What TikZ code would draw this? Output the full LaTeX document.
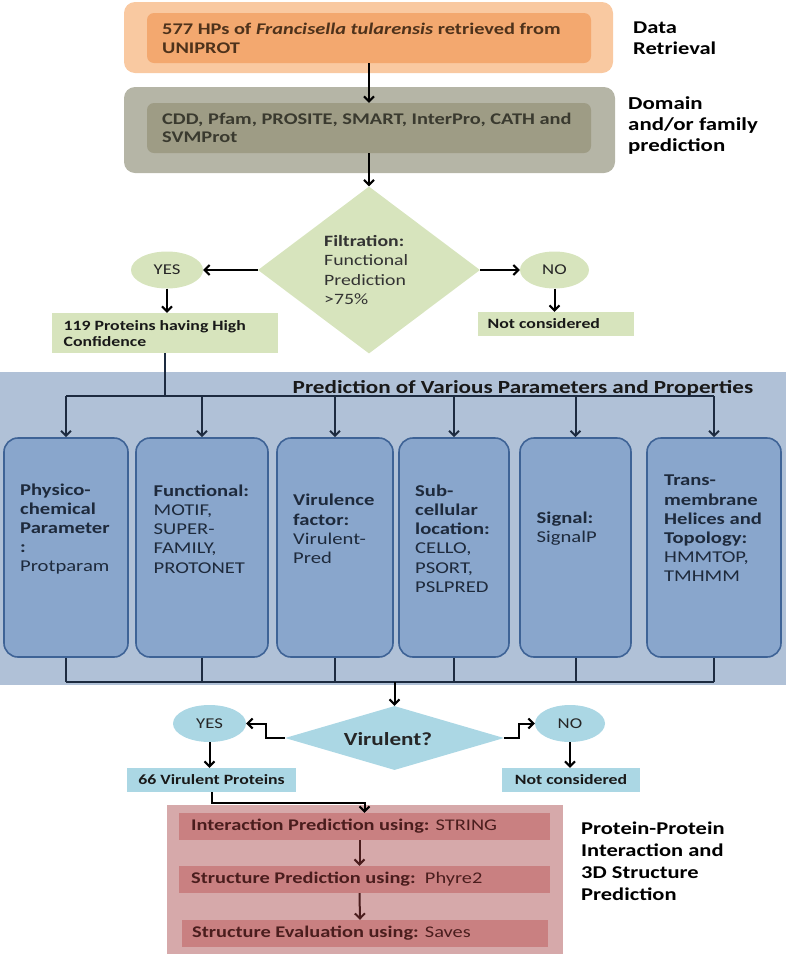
\documentclass[tikz,border=0pt]{standalone}
\usepackage{fontspec}
\setmainfont{Carlito}[FakeStretch=1.25]
\usetikzlibrary{shapes.geometric,arrows.meta}
\definecolor{retlight}{HTML}{F9C9A1}
\definecolor{retdark}{HTML}{F3A86F}
\definecolor{retink}{HTML}{4E321B}
\definecolor{domlight}{HTML}{B5B5A6}
\definecolor{domdark}{HTML}{9E9C85}
\definecolor{domink}{HTML}{3A3A2F}
\definecolor{filtgreen}{HTML}{D7E4BD}
\definecolor{panelblue}{HTML}{B0C1D7}
\definecolor{paramfill}{HTML}{89A6CC}
\definecolor{paramedge}{HTML}{3E6396}
\definecolor{paramink}{HTML}{1E2A3C}
\definecolor{businkk}{HTML}{1D2B40}
\definecolor{virblue}{HTML}{ABD7E4}
\definecolor{ppilight}{HTML}{D6A9AA}
\definecolor{ppidark}{HTML}{C98081}
\definecolor{ppiink}{HTML}{4A1D1D}
\tikzset{
  flow/.style={draw=black, line width=2pt,
    -{Straight Barb[length=5pt,width=10pt]}},
  bus line/.style={draw=businkk, line width=2pt},
  bus arrow/.style={bus line, -{Straight Barb[length=5pt,width=10pt]}},
  ppi flow/.style={draw=ppiink, line width=2pt,
    -{Straight Barb[length=5pt,width=10pt]}},
  stage outer/.style={rounded corners=11pt, inner sep=0pt},
  stage inner/.style={rounded corners=7pt, inner sep=0pt},
  stage text/.style={anchor=west, align=left, inner sep=0pt,
    font=\fontsize{16.3}{19}\selectfont\bfseries},
  side label/.style={anchor=west, align=left, inner sep=0pt,
    font=\fontsize{18}{21.5}\selectfont\bfseries},
  decision/.style={diamond, inner sep=0pt},
  answer/.style={ellipse, inner sep=0pt, font=\fontsize{15}{18}\selectfont,
    text=black!85},
  result box/.style={inner sep=0pt, font=\fontsize{14.2}{16}\selectfont\bfseries,
    text=black!90},
  param box/.style={rounded corners=14pt, draw=paramedge, line width=1.6pt,
    fill=paramfill, minimum height=219pt, inner sep=0pt},
  param text/.style={anchor=west, align=left, inner sep=0pt, text=paramink,
    font=\fontsize{16.5}{19.2}\selectfont},
  ppi box/.style={fill=ppidark, minimum height=27pt, inner sep=0pt},
  ppi text/.style={anchor=west, inner sep=0pt, text=ppiink,
    font=\fontsize{16.3}{17}\selectfont},
}

\begin{document}
\begin{tikzpicture}[x=1pt, y=-1pt]
  \useasboundingbox (0,0) rectangle (786,954);

  % retrieval and domain stages
  \node[stage outer, fill=retlight, minimum width=489pt, minimum height=71pt] (retout) at (368.5,37.5) {};
  \node[stage inner, fill=retdark, minimum width=444pt, minimum height=50pt] (retin) at (369,38) {};
  \node[stage text, text=retink] (rettext) at (162,38.5)
    {577 HPs of \textit{Francisella tularensis} retrieved from\\UNIPROT};
  \node[side label] (retlabel) at (633,38) {Data\\Retrieval};

  \node[stage outer, fill=domlight, minimum width=491pt, minimum height=86pt] (domout) at (369.5,130) {};
  \node[stage inner, fill=domdark, minimum width=444pt, minimum height=50pt] (domin) at (369,128) {};
  \node[stage text, text=domink, font=\fontsize{16.3}{18}\selectfont\bfseries] (domtext) at (162,128)
    {CDD, Pfam, PROSITE, SMART, InterPro, CATH and\\SVMProt};
  \node[side label, font=\fontsize{18.3}{21}\selectfont\bfseries] (domlabel) at (628,126)
    {Domain\\and/or family\\prediction};

  \draw[flow] (retin.south) -- (domin.north);

  % filtration
  \node[decision, fill=filtgreen, minimum width=222pt, minimum height=167pt] (filter) at (369,270) {};
  \node[param text, text=black!80, font=\fontsize{15.8}{19.2}\selectfont] (filtertext) at (324,270)
    {\textbf{Filtration:}\\Functional\\Prediction\\>75\%};
  \node[answer, fill=filtgreen, minimum width=72pt, minimum height=37pt] (yes1) at (167,270) {YES};
  \node[answer, fill=filtgreen, minimum width=69pt, minimum height=37pt] (no1) at (554.5,270) {NO};
  \node[result box, fill=filtgreen, minimum width=226pt, minimum height=40pt] (conf) at (165,333) {};
  \node[result box, anchor=west, align=left] (conftext) at (63.5,333.5)
    {119 Proteins having High\\Confidence};
  \node[result box, fill=filtgreen, minimum width=156pt, minimum height=24pt] (nc1) at (555.5,324) {};
  \node[result box, anchor=west] (nc1text) at (487.5,324) {Not considered};

  \draw[flow] (domin.south) -- (filter.north);
  \draw[flow] (filter.west) -- (yes1.east);
  \draw[flow] (filter.east) -- (no1.west);
  \draw[flow] (yes1.south) -- (yes1.south |- conf.north);
  \draw[flow] (no1.south) -- (no1.south |- nc1.north);

  % parameters and properties
  \fill[panelblue] (0,372) rectangle (786,685);
  \node[font=\fontsize{18.5}{20}\selectfont\bfseries, text=black!90] (ptitle) at (523,388)
    {Prediction of Various Parameters and Properties};

  \node[param box, minimum width=124pt] (p1) at (66,547.5) {};
  \node[param box, minimum width=132pt] (p2) at (202,547.5) {};
  \node[param box, minimum width=116pt] (p3) at (335,547.5) {};
  \node[param box, minimum width=110pt] (p4) at (454,547.5) {};
  \node[param box, minimum width=111pt] (p5) at (575.5,547.5) {};
  \node[param box, minimum width=134pt] (p6) at (714,547.5) {};

  \node[param text] (p1text) at (20,529)
    {\textbf{Physico-}\\\textbf{chemical}\\\textbf{Parameter}\\\textbf{:}\\Protparam};
  \node[param text] (p2text) at (153.5,529)
    {\textbf{Functional:}\\MOTIF,\\SUPER-\\FAMILY,\\PROTONET};
  \node[param text] (p3text) at (293,529)
    {\textbf{Virulence}\\\textbf{factor:}\\Virulent-\\Pred};
  \node[param text] (p4text) at (415,538.5)
    {\textbf{Sub-}\\\textbf{cellular}\\\textbf{location:}\\CELLO,\\PSORT,\\PSLPRED};
  \node[param text] (p5text) at (536.5,529)
    {\textbf{Signal:}\\SignalP};
  \node[param text] (p6text) at (664,528.5)
    {\textbf{Trans-}\\\textbf{membrane}\\\textbf{Helices and}\\\textbf{Topology:}\\HMMTOP,\\TMHMM};

  \coordinate (bus) at (0,396);
  \coordinate (join) at (0,682);
  \draw[bus line] (conf.south) -- (conf.south |- bus);
  \draw[bus line] (p1.north |- bus) -- (p6.north |- bus);
  \draw[bus arrow] (p1.north |- bus) -- (p1.north);
  \draw[bus arrow] (p2.north |- bus) -- (p2.north);
  \draw[bus arrow] (p3.north |- bus) -- (p3.north);
  \draw[bus arrow] (p4.north |- bus) -- (p4.north);
  \draw[bus arrow] (p5.north |- bus) -- (p5.north);
  \draw[bus arrow] (p6.north |- bus) -- (p6.north);
  \draw[bus line] (p1.south) -- (p1.south |- join);
  \draw[bus line] (p2.south) -- (p2.south |- join);
  \draw[bus line] (p3.south) -- (p3.south |- join);
  \draw[bus line] (p4.south) -- (p4.south |- join);
  \draw[bus line] (p5.south) -- (p5.south |- join);
  \draw[bus line] (p6.south) -- (p6.south |- join);
  \draw[bus line] (p1.south |- join) -- (p6.south |- join);

  % virulence check
  \node[decision, fill=virblue, minimum width=219pt, minimum height=64pt] (vir) at (394.5,738) {};
  \node[font=\fontsize{18.5}{22}\selectfont\bfseries, text=black!85] (virtext) at (388,739) {Virulent?};
  \node[answer, fill=virblue, minimum width=73pt, minimum height=37pt] (yes2) at (209.5,723.5) {YES};
  \node[answer, fill=virblue, minimum width=70pt, minimum height=37pt] (no2) at (570,723.5) {NO};
  \node[result box, fill=virblue, minimum width=169pt, minimum height=24pt] (vp) at (211.5,780) {66 Virulent Proteins};
  \node[result box, fill=virblue, minimum width=138pt, minimum height=24pt] (nc2) at (571,780) {Not considered};

  \draw[flow] (vir.north |- join) -- (vir.north);
  \draw[flow] (vir.west) -- ++(-19,0) |- (yes2.east);
  \draw[flow] (vir.east) -- ++(15,0) |- (no2.west);
  \draw[flow] (yes2.south) -- (yes2.south |- vp.north);
  \draw[flow] (no2.south) -- (no2.south |- nc2.north);

  % protein-protein interaction and structure
  \node[fill=ppilight, minimum width=396pt, minimum height=149pt, inner sep=0pt] (ppi) at (365,879.5) {};
  \node[ppi box, minimum width=371pt] (pa) at (364.5,826.5) {};
  \node[ppi box, minimum width=371pt] (pb) at (364.5,879.5) {};
  \node[ppi box, minimum width=366pt] (pc) at (365,933.5) {};
  \node[ppi text] (patext) at (191,826.5) {\textbf{Interaction Prediction using:} STRING};
  \node[ppi text] (pbtext) at (191,879.5) {\textbf{Structure Prediction using:}\ \ Phyre2};
  \node[ppi text] (pctext) at (192,933.5) {\textbf{Structure Evaluation using:} Saves};
  \node[side label, font=\fontsize{18}{22}\selectfont\bfseries] (ppilabel) at (581,861.5)
    {Protein-Protein\\Interaction and\\3D Structure\\Prediction};

  \draw[flow] (vp.south) -- ++(0,11) -| (pa.north);
  \draw[ppi flow] ([xshift=-5pt]pa.south) -- ([xshift=-5pt]pb.north);
  \draw[ppi flow] ([xshift=-5pt]pb.south) -- ([xshift=-5pt]pc.north);
\end{tikzpicture}
\end{document}
